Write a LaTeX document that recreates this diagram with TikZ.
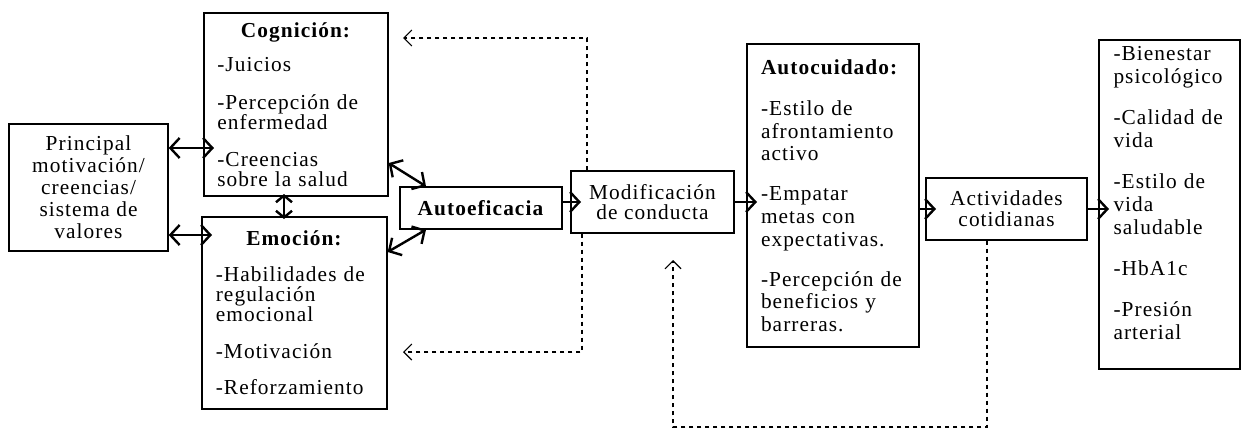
\documentclass[tikz,border=0pt]{standalone}
\usepackage{fontspec}
\setmainfont{Liberation Serif}[LetterSpace=5]
\usetikzlibrary{arrows.meta}

\tikzset{
  caja/.style={draw, line width=1pt, inner sep=0pt, align=left},
  letra/.style={font=\fontsize{16}{#1}\selectfont},
  punta/.tip={Straight Barb[length=7pt,width=15pt]},
  doble/.style={line width=1.8pt, punta-punta},
  flecha/.style={line width=1.8pt, -punta, shorten >=-8pt},
  retro/.style={line width=0.8pt, dash pattern=on 3.5pt off 2.5pt, -{Straight Barb[length=6pt,width=12pt]}},
}
\newcommand{\titulo}[1]{\makebox[\hsize]{\textbf{#1}}}

\begin{document}
\begin{tikzpicture}[x=0.75pt,y=0.75pt,yscale=-1,xscale=1]
\useasboundingbox (0,0) rectangle (1241,433);

%Shape: Rectangle [prin]
\node[caja, letra=16.5pt, align=center, minimum width=119.25pt, minimum height=95.25pt] (prin) at (88.5,187.5)
  {Principal\\motivación/\\creencias/\\sistema de\\valores};
%Shape: Rectangle [cog]
\node[caja, letra=15pt, text width=118pt, minimum width=138pt, minimum height=137.25pt] (cog) at (296,104.5)
  {\titulo{Cognición:}\\[11pt]-Juicios\\[13pt]-Percepción de\\enfermedad\\[13pt]-Creencias\\sobre la salud};
%Shape: Rectangle [emo]
\node[caja, letra=15pt, text width=118pt, minimum width=138.75pt, minimum height=144pt] (emo) at (294.5,313)
  {\titulo{Emoción:}\\[12pt]-Habilidades de\\regulación\\emocional\\[13pt]-Motivación\\[12pt]-Reforzamiento};
%Shape: Rectangle [auto]
\node[caja, letra=15pt, align=center, minimum width=121.5pt, minimum height=31.5pt] (auto) at (481,208)
  {\textbf{Autoeficacia}};
%Shape: Rectangle [modi]
\node[caja, letra=15.5pt, align=center, minimum width=122.25pt, minimum height=46.5pt] (modi) at (652.5,202)
  {Modificación\\de conducta};
%Shape: Rectangle [cuid]
\node[caja, letra=17pt, text width=108pt, minimum width=129pt, minimum height=227.25pt] (cuid) at (833,195.5)
  {\textbf{Autocuidado:}\\[14pt]-Estilo de\\afrontamiento\\activo\\[13pt]-Empatar\\metas con\\expectativas.\\[13pt]-Percepción de\\beneficios y\\barreras.};
%Shape: Rectangle [acti]
\node[caja, letra=15.5pt, align=center, minimum width=120.75pt, minimum height=46.5pt] (acti) at (1006.5,209)
  {Actividades\\cotidianas};
%Shape: Rectangle [resu]
\node[caja, letra=17pt, text width=84pt, minimum width=105.75pt, minimum height=246.75pt] (resu) at (1169.5,204.5)
  {-Bienestar\\psicológico\\[14pt]-Calidad de\\vida\\[14pt]-Estilo de\\vida\\saludable\\[14pt]-HbA1c\\[14pt]-Presión\\arterial\\\mbox{}};

%Arrow tips of the feedback lines
\coordinate (r1) at (403,38);
\coordinate (r2) at (403,352);
\coordinate (r3) at (673,260);

%Straight Lines
\draw[doble, shorten >=-8pt] (prin.east |- 0,148) -- (cog.west |- 0,148);
\draw[doble, shorten >=-8pt] (prin.east |- 0,235) -- (emo.west |- 0,235);
\draw[line width=1.8pt, {Straight Barb[length=5pt,width=12pt]}-{Straight Barb[length=5pt,width=12pt]}, shorten <=-2pt, shorten >=-2pt]
  (cog.south -| 284,0) -- (emo.north -| 284,0);
\draw[doble] (cog.east |- 0,163) -- (auto.north -| 426,0);
\draw[doble] (emo.east |- 0,252) -- (auto.south -| 426,0);
\draw[flecha] (auto.east |- modi.west) -- (modi.west);
\draw[flecha] (modi.east) -- (modi.east -| cuid.west);
\draw[flecha] (cuid.east |- acti.west) -- (acti.west);
\draw[flecha] (acti.east) -- (acti.east -| resu.west);

%Dashed Lines
\draw[retro] (modi.north -| 587,0) |- (r1);
\draw[retro] (modi.south -| 582,0) |- (r2);
\draw[retro] (acti.south -| 987,0) -- (987,427) -| (r3);

\end{tikzpicture}
\end{document}
